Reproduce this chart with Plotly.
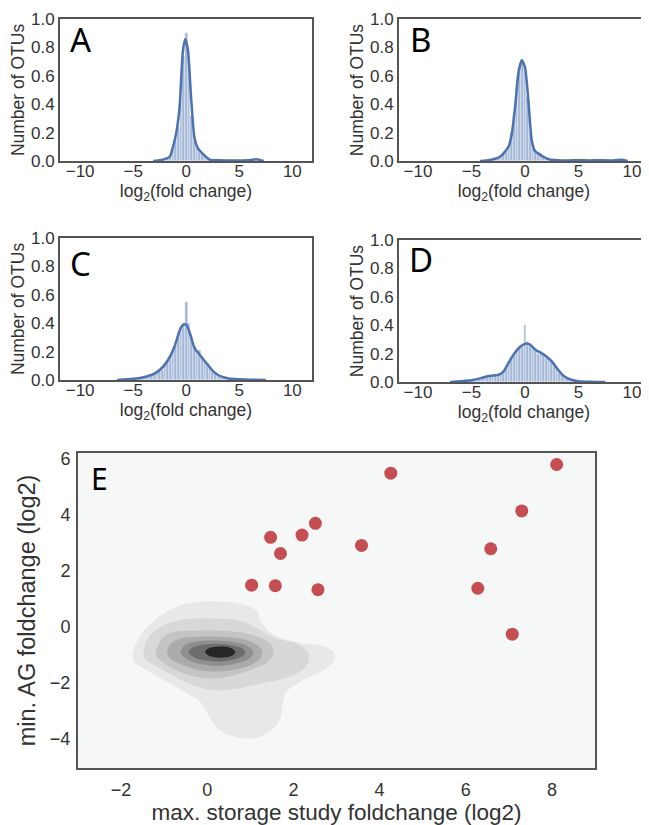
import plotly.graph_objects as go

# ---- panels A-D : histogram (bin centre / height) + kde curve ----
a_bins = [-3.0, -2.75, -2.5, -2.25, -2.0, -1.75, -1.5, -1.25, -1.0, -0.75, -0.5, -0.25, 0.0,
          0.25, 0.5, 0.75, 1.0, 1.25, 1.5, 1.75, 2.0, 2.25, 2.5, 2.75, 3.0]
a_heights = [0.005, 0.008, 0.01, 0.015, 0.02, 0.03, 0.04, 0.08, 0.15, 0.24, 0.42, 0.74, 0.90,
             0.64, 0.32, 0.15, 0.09, 0.08, 0.05, 0.03, 0.02, 0.01, 0.008, 0.005, 0.004]
a_kde_x = [-3.1, -2.2, -1.56, -1.25, -0.94, -0.63, -0.31, -0.09, 0.16, 0.47, 0.78, 1.09, 1.56,
           2.2, 3.0, 4.0, 5.0, 6.0, 6.6, 7.0, 7.3]
a_kde_y = [0.0, 0.01, 0.03, 0.10, 0.20, 0.38, 0.78, 0.86, 0.78, 0.43, 0.16, 0.09, 0.05,
           0.01, 0.005, 0.004, 0.004, 0.005, 0.012, 0.006, 0.0]

b_bins = [-3.5, -3.25, -3.0, -2.75, -2.5, -2.25, -2.0, -1.75, -1.5, -1.25, -1.0, -0.75, -0.5,
          -0.25, 0.0, 0.25, 0.5, 0.75, 1.0, 1.25, 1.5, 1.75, 2.0, 2.25, 2.5, 2.75, 3.0]
b_heights = [0.005, 0.008, 0.01, 0.02, 0.025, 0.03, 0.05, 0.07, 0.11, 0.20, 0.34, 0.52, 0.66,
             0.72, 0.64, 0.45, 0.20, 0.10, 0.06, 0.05, 0.04, 0.03, 0.02, 0.015, 0.01, 0.008, 0.005]
b_kde_x = [-4.2, -3.58, -2.33, -1.55, -1.24, -0.93, -0.62, -0.31, 0.0, 0.31, 0.62, 0.93, 1.3,
           1.71, 2.33, 3.0, 4.0, 5.0, 6.0, 7.0, 8.0, 9.0, 9.6]
b_kde_y = [0.0, 0.003, 0.03, 0.10, 0.19, 0.38, 0.62, 0.71, 0.66, 0.43, 0.15, 0.07, 0.05,
           0.03, 0.01, 0.006, 0.004, 0.006, 0.004, 0.005, 0.004, 0.008, 0.0]

cd_bins = [-5.0, -4.75, -4.5, -4.25, -4.0, -3.75, -3.5, -3.25, -3.0, -2.75, -2.5, -2.25, -2.0,
           -1.75, -1.5, -1.25, -1.0, -0.75, -0.5, -0.25, 0.0, 0.25, 0.5, 0.75, 1.0, 1.25, 1.5,
           1.75, 2.0, 2.25, 2.5, 2.75, 3.0, 3.25, 3.5, 3.75, 4.0, 4.25, 4.5, 4.75, 5.0]
c_heights = [0.005, 0.008, 0.01, 0.015, 0.02, 0.025, 0.03, 0.035, 0.045, 0.05, 0.08, 0.07, 0.12,
             0.14, 0.16, 0.20, 0.25, 0.33, 0.36, 0.40, 0.55, 0.40, 0.30, 0.24, 0.18, 0.21, 0.16,
             0.13, 0.11, 0.09, 0.065, 0.05, 0.035, 0.025, 0.02, 0.015, 0.01, 0.008, 0.006, 0.004, 0.003]
c_kde_x = [-6.5, -5.0, -4.0, -3.5, -3.0, -2.5, -2.0, -1.5, -1.25, -1.0, -0.75, -0.5, -0.25, 0.0,
           0.25, 0.5, 0.75, 1.0, 1.25, 1.5, 2.0, 2.5, 3.0, 3.5, 4.0, 5.0, 6.0, 7.5]
c_kde_y = [0.0, 0.008, 0.02, 0.03, 0.045, 0.07, 0.11, 0.17, 0.21, 0.26, 0.32, 0.37, 0.39, 0.39,
           0.35, 0.29, 0.23, 0.20, 0.18, 0.155, 0.11, 0.065, 0.035, 0.02, 0.01, 0.005, 0.002, 0.0]

d_heights = [0.008, 0.01, 0.015, 0.02, 0.03, 0.035, 0.04, 0.045, 0.045, 0.05, 0.05, 0.06, 0.08,
             0.10, 0.15, 0.17, 0.20, 0.22, 0.24, 0.25, 0.40, 0.28, 0.26, 0.24, 0.22, 0.20, 0.22,
             0.19, 0.17, 0.16, 0.14, 0.12, 0.09, 0.07, 0.05, 0.04, 0.03, 0.02, 0.012, 0.008, 0.005]
d_kde_x = [-7.0, -6.0, -5.0, -4.0, -3.5, -3.0, -2.5, -2.0, -1.5, -1.0, -0.5, 0.0, 0.25, 0.5,
           1.0, 1.5, 2.0, 2.5, 3.0, 3.5, 4.0, 4.5, 5.0, 6.0, 7.5]
d_kde_y = [0.0, 0.005, 0.012, 0.03, 0.04, 0.045, 0.05, 0.075, 0.14, 0.20, 0.245, 0.268, 0.27, 0.262,
           0.225, 0.205, 0.18, 0.145, 0.095, 0.05, 0.025, 0.012, 0.006, 0.002, 0.0]

# ---- panel E : red points ----
e_x = [1.03, 1.58, 1.47, 1.70, 2.20, 2.51, 2.57, 3.58, 4.26, 6.28, 6.58, 7.08, 7.30, 8.11]
e_y = [1.48, 1.46, 3.19, 2.61, 3.27, 3.69, 1.32, 2.90, 5.48, 1.37, 2.78, -0.27, 4.13, 5.79]

# ---- panel E : kde density levels (outlines, outer -> inner) ----
lvl1_x = [-1.74, -1.53, -1.15, -0.67, -0.19, 0.38, 0.81, 1.15, 1.26, 1.53, 2.11, 2.68, 2.96, 2.92,
          2.76, 2.46, 2.15, 1.84, 1.76, 1.69, 1.53, 1.22, 0.92, 0.53, 0.23, 0.03, -0.16, -0.47,
          -0.93, -1.40, -1.66]
lvl1_y = [-1.05, -0.27, 0.32, 0.74, 0.88, 0.89, 0.80, 0.56, 0.14, -0.27, -0.57, -0.69, -0.95, -1.26,
          -1.50, -1.74, -1.98, -2.33, -2.69, -3.29, -3.64, -3.94, -4.00, -3.88, -3.64, -3.17, -2.69,
          -2.39, -1.98, -1.56, -1.32]
lvl2_x = [-1.48, -1.34, -0.96, -0.48, 0.19, 0.77, 1.20, 1.53, 2.11, 2.34, 2.34, 2.11, 1.72, 1.24,
          0.67, 0.19, -0.29, -0.77, -1.20, -1.44]
lvl2_y = [-0.87, -0.33, 0.08, 0.26, 0.29, 0.20, -0.10, -0.39, -0.63, -0.93, -1.29, -1.65, -1.89,
          -2.03, -2.22, -2.27, -2.12, -1.77, -1.41, -1.17]
lvl3_x = [-1.19, -1.05, -0.82, -0.36, 0.41, 0.88, 1.26, 1.50, 1.54, 1.42, 1.11, 0.65, 0.19, -0.27,
          -0.74, -1.05]
lvl3_y = [-1.01, -0.42, -0.21, -0.15, -0.15, -0.24, -0.42, -0.68, -0.96, -1.25, -1.49, -1.73, -1.85,
          -1.79, -1.55, -1.25]
lvl4_x = [-0.93, -0.85, -0.60, -0.20, 0.30, 0.75, 1.10, 1.27, 1.22, 1.00, 0.60, 0.15, -0.30, -0.65, -0.88]
lvl4_y = [-0.92, -0.62, -0.42, -0.36, -0.36, -0.42, -0.60, -0.85, -1.15, -1.38, -1.55, -1.60, -1.52,
          -1.32, -1.10]
lvl5_x = [-0.62, -0.52, -0.25, 0.20, 0.60, 0.92, 1.07, 1.00, 0.70, 0.30, -0.10, -0.45]
lvl5_y = [-0.92, -0.66, -0.53, -0.50, -0.55, -0.68, -0.90, -1.12, -1.30, -1.40, -1.35, -1.18]
lvl6_x = [-0.43, -0.33, -0.05, 0.30, 0.62, 0.85, 0.87, 0.70, 0.35, 0.00, -0.30]
lvl6_y = [-0.92, -0.74, -0.64, -0.62, -0.68, -0.82, -0.98, -1.14, -1.24, -1.22, -1.10]
lvl7_x = [-0.05, 0.02, 0.30, 0.55, 0.65, 0.57, 0.30, 0.05]
lvl7_y = [-0.91, -0.78, -0.71, -0.76, -0.91, -1.05, -1.11, -1.05]

levels = [(lvl1_x, lvl1_y, '#e7e8e8'), (lvl2_x, lvl2_y, '#d8d8d8'), (lvl3_x, lvl3_y, '#c4c4c4'),
          (lvl4_x, lvl4_y, '#ababab'), (lvl5_x, lvl5_y, '#8f8f8f'), (lvl6_x, lvl6_y, '#6d6d6d'),
          (lvl7_x, lvl7_y, '#262626')]

BLUE = '#4c72b0'
FONT = 'Liberation Sans, Arial, sans-serif'
TXT = '#333333'
# page body has an 8px margin, so the figure itself is 8px smaller
OFF = 8
W, H = 649 - OFF, 825 - OFF

fig = go.Figure()

hist_panels = [
    ('x', 'y', a_bins, a_heights, a_kde_x, a_kde_y),
    ('x2', 'y2', b_bins, b_heights, b_kde_x, b_kde_y),
    ('x3', 'y3', cd_bins, c_heights, c_kde_x, c_kde_y),
    ('x4', 'y4', cd_bins, d_heights, d_kde_x, d_kde_y),
]
for xa, ya, bins, hts, kx, ky in hist_panels:
    fig.add_trace(go.Bar(x=bins, y=hts, width=0.25, xaxis=xa, yaxis=ya,
                         marker=dict(color='rgba(76,114,176,0.5)',
                                     line=dict(color='white', width=0.4)),
                         showlegend=False))
    fig.add_trace(go.Scatter(x=kx, y=ky, mode='lines', xaxis=xa, yaxis=ya,
                             line=dict(color=BLUE, width=2.5, shape='spline', smoothing=0.6),
                             showlegend=False))

# kde shading for E
for lx, ly, col in levels:
    fig.add_trace(go.Scatter(x=lx + lx[:1], y=ly + ly[:1], mode='lines', fill='toself',
                             fillcolor=col, line=dict(width=0, color=col, shape='spline'),
                             xaxis='x5', yaxis='y5', showlegend=False, hoverinfo='skip'))

fig.add_trace(go.Scatter(x=e_x, y=e_y, mode='markers', xaxis='x5', yaxis='y5',
                         marker=dict(color='#c44e52', size=13), showlegend=False))


def xdom(left, right):
    return [(left - OFF) / W, min(1.0, (right - OFF) / W)]


def ydom(top, bottom):
    return [1 - (bottom - OFF) / H, 1 - (top - OFF) / H]


hx = dict(showline=True, linecolor='#555555', linewidth=2, mirror=True, showgrid=False,
          zeroline=False, ticks='', tickvals=[-10, -5, 0, 5, 10], ticklabelstandoff=-6,
          tickfont=dict(size=17, color=TXT, family=FONT),
          title=dict(text='log<sub>2</sub>(fold change)', font=dict(size=17.5, color=TXT, family=FONT),
                     standoff=0))
hy = dict(showline=True, linecolor='#555555', linewidth=2, showgrid=False, zeroline=False,
          ticks='', range=[0, 1], tickvals=[0, 0.2, 0.4, 0.6, 0.8, 1.0], tickformat='.1f',
          tickfont=dict(size=17, color=TXT, family=FONT),
          title=dict(text='Number of OTUs', font=dict(size=17.5, color=TXT, family=FONT), standoff=2))

fig.update_layout(
    width=W, height=H, margin=dict(l=0, r=0, t=0, b=0, autoexpand=False),
    paper_bgcolor='white', plot_bgcolor='white', bargap=0,
    xaxis=dict(hx, domain=xdom(60, 312), range=[-11.9, 11.85], anchor='y'),
    yaxis=dict(hy, domain=ydom(19, 161), anchor='x', mirror=True),
    xaxis2=dict(hx, domain=xdom(399, 649), range=[-11.78, 11.59], anchor='y2'),
    yaxis2=dict(hy, domain=ydom(19, 161), anchor='x2', mirror=False),
    xaxis3=dict(hx, domain=xdom(60, 312), range=[-11.9, 11.85], anchor='y3'),
    yaxis3=dict(hy, domain=ydom(238, 380), anchor='x3', mirror=True),
    xaxis4=dict(hx, domain=xdom(399, 649), range=[-11.78, 11.59], anchor='y4'),
    yaxis4=dict(hy, domain=ydom(240, 382), anchor='x4', mirror=False),
    xaxis5=dict(domain=xdom(78, 595), range=[-3, 9], anchor='y5', showline=True,
                linecolor='#555555', linewidth=2, mirror=True, showgrid=False, zeroline=False,
                ticks='', tickvals=[-2, 0, 2, 4, 6, 8], ticklabelstandoff=4,
                tickfont=dict(size=18, color=TXT, family=FONT),
                title=dict(text='max. storage study foldchange (log2)',
                           font=dict(size=22.5, color=TXT, family=FONT), standoff=6)),
    yaxis5=dict(domain=ydom(453, 768), range=[-5.05, 6.2], anchor='x5', showline=True,
                linecolor='#555555', linewidth=2, mirror=True, showgrid=False, zeroline=False,
                ticks='', tickvals=[-4, -2, 0, 2, 4, 6], ticklabelstandoff=2,
                tickfont=dict(size=18, color=TXT, family=FONT),
                title=dict(text='min. AG foldchange (log2)',
                           font=dict(size=23.5, color=TXT, family=FONT), standoff=8)),
)

# light background of the kde panel
fig.add_shape(type='rect', xref='x5 domain', yref='y5 domain', x0=0, x1=1, y0=0, y1=1,
              fillcolor='#f6f7f7', line=dict(width=0), layer='below')

letters = [('A', 68, 15, 33), ('B', 408, 15, 33), ('C', 68, 239, 33), ('D', 407, 235, 33),
           ('E', 89, 456, 30)]
for txt, lx, ty, sz in letters:
    fig.add_annotation(text=txt, x=(lx - OFF) / W, y=1 - (ty - OFF) / H, xref='paper', yref='paper',
                       xanchor='left', yanchor='top', showarrow=False,
                       font=dict(size=sz, color='black', family='Noto Sans, sans-serif'))

fig.write_html('out.html')
